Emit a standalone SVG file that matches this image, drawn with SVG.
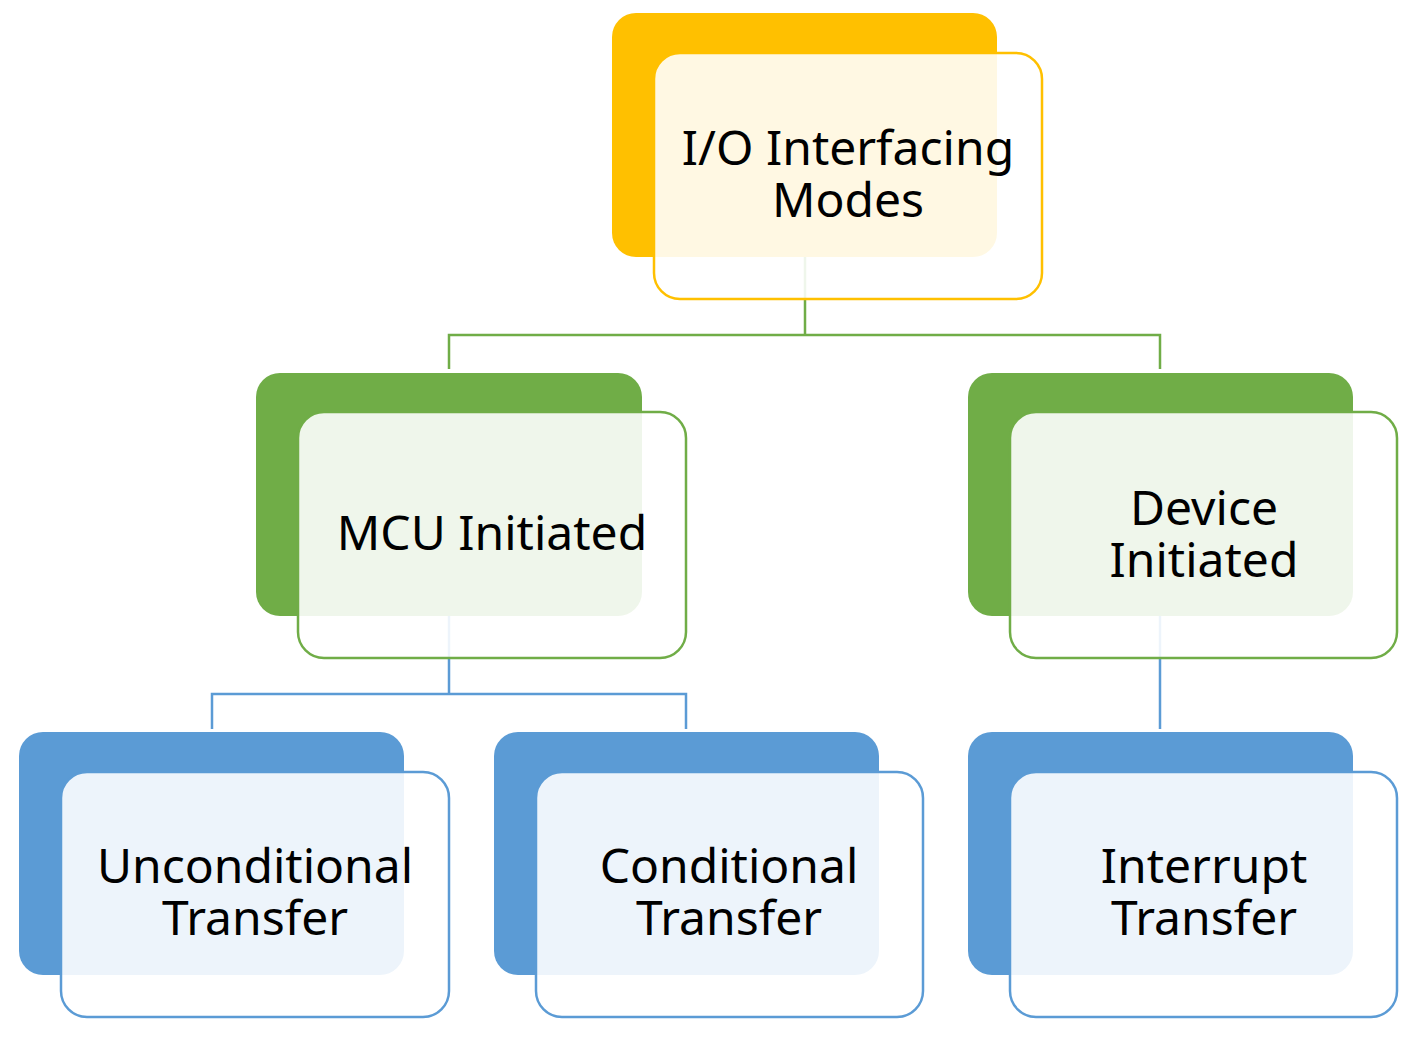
<svg xmlns="http://www.w3.org/2000/svg" width="1418" height="1037" viewBox="0 0 1418 1037">
<style>
.t{font-family:"Noto Sans","Open Sans","DejaVu Sans",sans-serif;font-size:48px;fill:#000;text-anchor:middle}
.front{fill:#fff;fill-opacity:0.89;stroke-width:2.5}
.gold .front{stroke:#FFC000}
.green .front{stroke:#70AD47}
.blue .front{stroke:#5B9BD5}
.cg{fill:none;stroke:#70AD47;stroke-width:2.5}
.cb{fill:none;stroke:#5B9BD5;stroke-width:2.5}
</style>
<rect width="1418" height="1037" fill="#fff"/>
<g id="nodes-back">
<rect x="612" y="13" width="385" height="244" rx="24" fill="#FFC000"/>
<rect x="256" y="373" width="386" height="243" rx="24" fill="#70AD47"/>
<rect x="968" y="373" width="385" height="243" rx="24" fill="#70AD47"/>
<rect x="19" y="732" width="385" height="243" rx="24" fill="#5B9BD5"/>
<rect x="494" y="732" width="385" height="243" rx="24" fill="#5B9BD5"/>
<rect x="968" y="732" width="385" height="243" rx="24" fill="#5B9BD5"/>
</g>
<g id="connectors">
<path class="cg" d="M805 257V335M449 369V335H1160V369"/>
<path class="cb" d="M449 616V694M212 729V694H686V729"/>
<path class="cb" d="M1160 616V729"/>
</g>
<g id="node-io" class="gold">
<rect class="front" x="654" y="53" width="388" height="246" rx="26"/>
<text class="t" x="848" y="165">I/O Interfacing</text>
<text class="t" x="848" y="217">Modes</text>
</g>
<g id="node-mcu" class="green">
<rect class="front" x="298" y="412" width="388" height="246" rx="26"/>
<text class="t" x="492" y="550">MCU Initiated</text>
</g>
<g id="node-device" class="green">
<rect class="front" x="1010" y="412" width="387" height="246" rx="26"/>
<text class="t" x="1204" y="525">Device</text>
<text class="t" x="1204" y="577">Initiated</text>
</g>
<g id="node-uncond" class="blue">
<rect class="front" x="61" y="772" width="388" height="245" rx="26"/>
<text class="t" x="255" y="883">Unconditional</text>
<text class="t" x="255" y="935">Transfer</text>
</g>
<g id="node-cond" class="blue">
<rect class="front" x="536" y="772" width="387" height="245" rx="26"/>
<text class="t" x="729" y="883">Conditional</text>
<text class="t" x="729" y="935">Transfer</text>
</g>
<g id="node-int" class="blue">
<rect class="front" x="1010" y="772" width="387" height="245" rx="26"/>
<text class="t" x="1204" y="883">Interrupt</text>
<text class="t" x="1204" y="935">Transfer</text>
</g>
</svg>
